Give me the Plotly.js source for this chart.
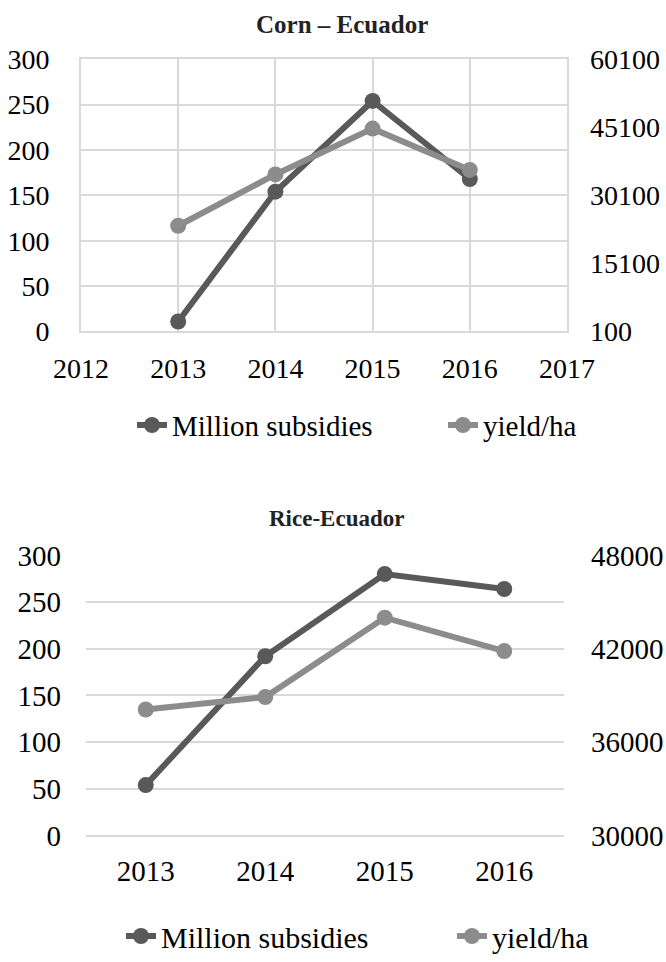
<!DOCTYPE html>
<html>
<head>
<meta charset="utf-8">
<script src="https://cdn.plot.ly/plotly-3.0.1.min.js"></script>
<style>html,body{margin:0;padding:0;background:#fff;}#chart{width:666px;height:962px;}</style>
</head>
<body>
<div id="chart"></div>
<script>
// Corn – Ecuador
const cornYears = [2013, 2014, 2015, 2016];
const cornSubsidies = [11, 154, 254, 168];
const cornYield = [23400, 34700, 44800, 35700];
const cornLeftTicks = [0, 50, 100, 150, 200, 250, 300];
const cornRightTicks = [100, 15100, 30100, 45100, 60100];
const cornXTicks = [2012, 2013, 2014, 2015, 2016, 2017];

// Rice-Ecuador
const riceYears = ['2013', '2014', '2015', '2016'];
const riceSubsidies = [54, 192, 280, 264];
const riceYield = [38100, 38900, 44000, 41850];
const riceLeftTicks = [0, 50, 100, 150, 200, 250, 300];
const riceRightTicks = [30000, 36000, 42000, 48000];

const seriesNames = ['Million subsidies', 'yield/ha'];
const titles = ['Corn – Ecuador', 'Rice-Ecuador'];

const DARK = '#595959', LIGHT = '#8c8c8c', GRID = '#d9d9d9';
const FONT = '"Liberation Serif", serif';

function line(x, y, name, color, xa, ya, legend) {
  return {
    x: x, y: y, name: name, type: 'scatter', mode: 'lines+markers',
    xaxis: xa, yaxis: ya, legend: legend, showlegend: true,
    line: {color: color, width: 6},
    marker: {color: color, size: 16},
    cliponaxis: false
  };
}

const traces = [
  line(cornYears, cornSubsidies, seriesNames[0], DARK, 'x', 'y', 'legend'),
  line(cornYears, cornYield, seriesNames[1], LIGHT, 'x', 'y2', 'legend2'),
  line(riceYears, riceSubsidies, seriesNames[0], DARK, 'x3', 'y3', 'legend3'),
  line(riceYears, riceYield, seriesNames[1], LIGHT, 'x3', 'y4', 'legend4')
];

const tickFont1 = {family: FONT, size: 28, color: '#000'};
const tickFont2 = {family: FONT, size: 29, color: '#000'};

function leg(xLeft, yCenter, size) {
  return {
    orientation: 'v', x: xLeft / 666, xanchor: 'left', y: 1 - yCenter / 962, yanchor: 'middle',
    font: {family: FONT, size: size, color: '#000'}, bgcolor: 'rgba(0,0,0,0)',
    borderwidth: 0, itemwidth: 30
  };
}

const layout = {
  width: 666, height: 962,
  margin: {l: 0, r: 0, t: 0, b: 0},
  paper_bgcolor: '#fff', plot_bgcolor: '#fff',
  font: {family: FONT, color: '#000'},
  xaxis: {
    domain: [81/666, 567/666], anchor: 'y', type: 'linear',
    range: [2012, 2017], tickvals: cornXTicks, ticktext: cornXTicks.map(String),
    showgrid: true, gridcolor: GRID, gridwidth: 2, zeroline: false,
    showline: true, linecolor: GRID, linewidth: 2, mirror: true,
    ticks: '', ticklabelstandoff: 11, tickfont: tickFont1
  },
  yaxis: {
    domain: [1 - 336/962, 1 - 60/962], anchor: 'x',
    range: [0, 300], tickvals: cornLeftTicks, ticktext: cornLeftTicks.map(String),
    showgrid: true, gridcolor: GRID, gridwidth: 2, zeroline: false,
    showline: true, linecolor: GRID, linewidth: 2, mirror: true,
    ticks: '', ticklabelstandoff: 24, tickfont: tickFont1
  },
  yaxis2: {
    overlaying: 'y', side: 'right', anchor: 'x',
    range: [100, 60100], tickvals: cornRightTicks, ticktext: cornRightTicks.map(String),
    showgrid: false, zeroline: false, showline: false,
    ticks: '', ticklabelstandoff: 22, tickfont: tickFont1
  },
  xaxis3: {
    domain: [86/666, 564/666], anchor: 'y3', type: 'category',
    categoryarray: riceYears, range: [-0.5, 3.5],
    showgrid: false, zeroline: false, showline: false,
    ticks: '', ticklabelstandoff: 15, tickfont: tickFont2
  },
  yaxis3: {
    domain: [1 - 847/962, 1 - 563/962], anchor: 'x3',
    range: [0, 300], tickvals: riceLeftTicks, ticktext: riceLeftTicks.map(String),
    showgrid: true, gridcolor: GRID, gridwidth: 2,
    zeroline: true, zerolinecolor: GRID, zerolinewidth: 2, showline: false,
    ticks: '', ticklabelstandoff: 24, tickfont: tickFont2
  },
  yaxis4: {
    overlaying: 'y3', side: 'right', anchor: 'x3',
    range: [30000, 48000], tickvals: riceRightTicks, ticktext: riceRightTicks.map(String),
    showgrid: false, zeroline: false, showline: false,
    ticks: '', ticklabelstandoff: 26, tickfont: tickFont2
  },
  legend: leg(132, 431, 29),
  legend2: leg(443, 431, 29),
  legend3: leg(121, 949, 30),
  legend4: leg(452, 949, 30),
  annotations: [
    {text: '<b>' + titles[0] + '</b>', xref: 'paper', yref: 'paper',
     x: 341.5/666, y: 1 - 25/962, xanchor: 'center', yanchor: 'middle',
     showarrow: false, font: {family: FONT, size: 25, color: '#222'}},
    {text: '<b>' + titles[1] + '</b>', xref: 'paper', yref: 'paper',
     x: 336.5/666, y: 1 - 526/962, xanchor: 'center', yanchor: 'middle',
     showarrow: false, font: {family: FONT, size: 23, color: '#222'}}
  ],
  showlegend: true
};

Plotly.newPlot('chart', traces, layout, {displayModeBar: false, staticPlot: true});
</script>
</body>
</html>
